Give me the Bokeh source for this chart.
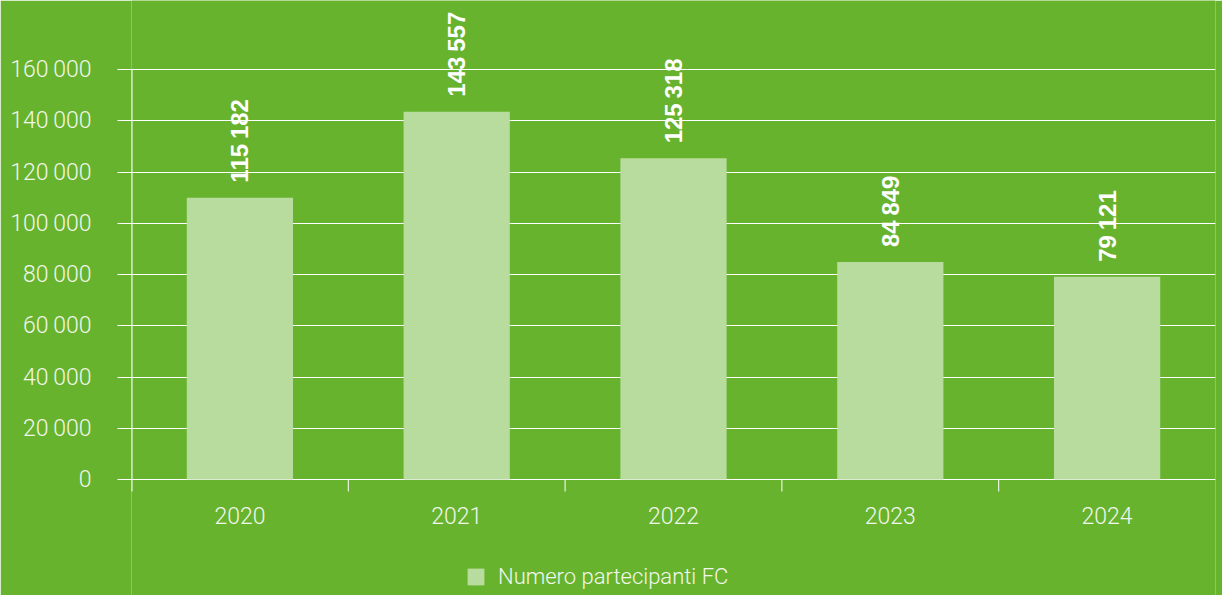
import math
from bokeh.plotting import figure
from bokeh.models import Range1d, FixedTicker, ColumnDataSource, Legend, LegendItem, LabelSet
from bokeh.core.properties import value
from bokeh.embed import file_html
from bokeh.resources import INLINE

# ---- data ----
years = ["2020", "2021", "2022", "2023", "2024"]
bar_heights = [110000, 143557, 125318, 84849, 79121]
value_labels = ["115\u2009182", "143\u2009557", "125\u2009318", "84\u2009849", "79\u2009121"]
y_ticks = [0, 20000, 40000, 60000, 80000, 100000, 120000, 140000, 160000]
y_tick_labels = ["0", "20\u2009000", "40\u2009000", "60\u2009000", "80\u2009000",
                 "100\u2009000", "120\u2009000", "140\u2009000", "160\u2009000"]
series_name = "Numero partecipanti FC"

BG = "#67b32e"
BAR = "#b8dc9e"
TXT = "#f2f7ec"
LIGHT_FONT = "Roboto Light, Roboto, Liberation Sans"
BOLD_FONT = "Liberation Sans, Arial, sans-serif"

centers = [i + 0.5 for i in range(len(years))]
boundaries = list(range(1, len(years)))
src = ColumnDataSource(dict(x=centers, h=bar_heights, lbl=value_labels, yr=years))

# pixel layout: value 0 at 479px, last tick at 69px, frame down to 595px
units_per_px = y_ticks[-1] / 410
y_top = 479 * units_per_px
y_bottom = -116 * units_per_px
tick_len = 12 * units_per_px

p = figure(width=1222, height=595, output_backend="svg", toolbar_location=None,
           x_axis_location=None,
           x_range=Range1d(0, len(years)), y_range=Range1d(y_bottom, y_top),
           min_border_left=131, min_border_right=7, min_border_top=0, min_border_bottom=0,
           background_fill_color=BG, border_fill_color=BG, outline_line_color=None)

bars = p.vbar(x="x", top="h", bottom=0, width=0.49, source=src, fill_color=BAR, line_color=None)

labels = LabelSet(x="x", y="h", text="lbl", source=src, angle=math.pi / 2,
                  text_align="left", text_baseline="middle", y_offset=15,
                  text_color="white", text_font=value(BOLD_FONT), text_font_style="bold",
                  text_font_size="24px")
p.add_layout(labels)

# category labels under the baseline
cat_labels = LabelSet(x="x", y=0, text="yr", source=src, y_offset=-36,
                      text_align="center", text_baseline="middle",
                      text_color=TXT, text_font=value(LIGHT_FONT), text_font_size="23px")
p.add_layout(cat_labels)

# y axis line (down through the baseline tick) and category boundary ticks
p.segment(x0=[0], y0=[-tick_len], x1=[0], y1=[y_ticks[-1]], line_color="white", line_width=2)
p.segment(x0=boundaries, y0=[0] * len(boundaries), x1=boundaries, y1=[-tick_len] * len(boundaries),
          line_color="white", line_width=1)

# y axis
p.yaxis.ticker = FixedTicker(ticks=y_ticks)
p.yaxis.major_label_overrides = {t: l for t, l in zip(y_ticks, y_tick_labels)}
p.yaxis.axis_line_color = None
p.yaxis.major_tick_line_color = "white"
p.yaxis.major_tick_out = 14
p.yaxis.major_tick_in = 0
p.yaxis.minor_tick_line_color = None
p.yaxis.major_label_standoff = 26
p.yaxis.major_label_text_font = LIGHT_FONT
p.yaxis.major_label_text_font_size = "23px"
p.yaxis.major_label_text_color = TXT

p.xgrid.grid_line_color = None
p.ygrid.grid_line_color = "white"
p.ygrid.grid_line_width = 1

legend = Legend(items=[LegendItem(label=series_name, renderers=[bars])],
                orientation="horizontal", location=(334, 6),
                glyph_width=21, glyph_height=21, label_standoff=12,
                label_text_font=LIGHT_FONT, label_text_font_size="22px",
                label_text_color=TXT, border_line_color=None,
                background_fill_alpha=0, margin=0, padding=0)
p.add_layout(legend, "center")

open("out.html", "w").write(file_html(p, INLINE))
